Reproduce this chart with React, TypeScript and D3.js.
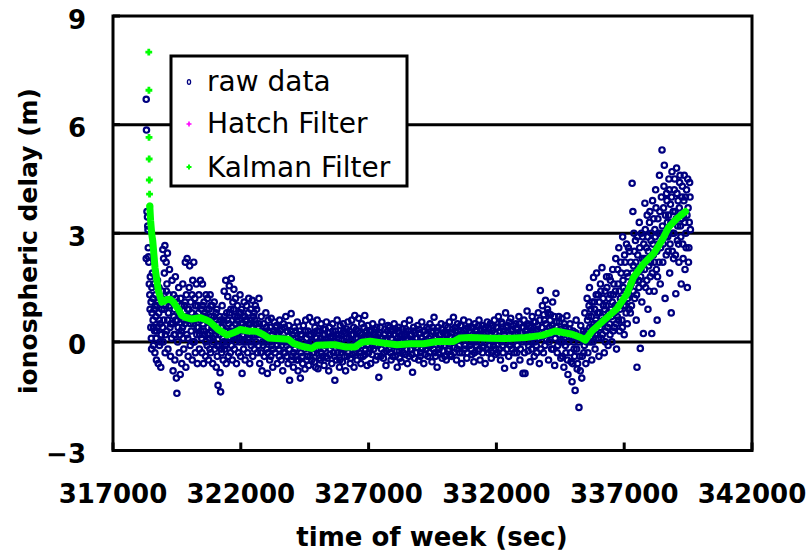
import React from "react";
import * as d3 from "d3";

const xTicks = [317000, 322000, 327000, 332000, 337000, 342000];
const yTicks = [-3, 0, 3, 6, 9];
const gridValues = [0, 3, 6];
const legendLabels = ["raw data", "Hatch Filter", "Kalman Filter"];

// Kalman filter: sparse early samples (drawn as markers only)
const kalmanStart: [number, number][] = [
  [318400, 8.0], [318405, 6.95], [318410, 5.65], [318415, 5.05], [318420, 4.47], [318430, 4.08], [318440, 3.75],
];
// Kalman filter: dense part (drawn as a thick trace)
const kalmanTrace: [number, number][] = [
  [318440, 3.75], [318470, 3.36], [318520, 2.95], [318554, 2.8], [318644, 2.05], [318773, 1.42], [318907, 1.1],
  [319000, 1.12], [319100, 1.17], [319230, 1.18], [319361, 1.1], [319494, 0.96], [319556, 0.9], [319690, 0.73],
  [319819, 0.68], [320081, 0.63], [320406, 0.67], [320602, 0.62], [320798, 0.55], [321122, 0.34], [321451, 0.19],
  [321514, 0.2], [321710, 0.25], [321972, 0.34], [322285, 0.3], [322626, 0.29], [322884, 0.2], [323080, 0.11],
  [323409, 0.09], [323863, 0.07], [324059, -0.04], [324388, -0.12], [324779, -0.18], [324975, -0.09],
  [325496, -0.08], [325691, -0.08], [326083, -0.14], [326474, -0.14], [326737, -0.01], [327062, 0.02],
  [327453, -0.02], [328107, -0.08], [328628, -0.05], [329148, -0.05], [329673, 0.01], [330323, 0.01],
  [330585, 0.11], [330977, 0.12], [331760, 0.1], [332347, 0.09], [333130, 0.12], [333784, 0.18], [334304, 0.3],
  [334958, 0.21], [335300, 0.12], [335479, 0.05], [335741, 0.3], [336195, 0.59], [336720, 0.92], [337111, 1.33],
  [337370, 1.79], [337762, 2.16], [338153, 2.44], [338482, 2.81], [338741, 3.17], [339069, 3.41], [339327, 3.56],
  [339400, 3.6],
];

// raw ionospheric delay samples, first pass (spread / outliers)
const rawSpread: [number, number][] = [
  [318300, 6.7], [318310, 5.85], [318330, 3.6], [318350, 3.45], [318360, 3.2], [318370, 3.1], [318380, 2.6],
  [318390, 2.35], [318300, 2.3], [318400, 2.2], [318420, 1.6], [318440, 1.3], [318450, 0.9], [318460, 1.8],
  [318480, 0.4], [318490, 1.1], [318500, 0.1], [318510, -0.2], [318520, 1.5],
  [318540, 1.9], [318560, 1.2], [318570, 0.6], [318580, -0.1], [318600, 1.6], [318610, 0.9], [318630, 0.3],
  [318640, -0.3], [318660, 1.3], [318680, 0.7], [318690, 0.1], [318700, -0.5], [318720, 1.0], [318740, 1.7],
  [318750, 0.4], [318770, -0.6], [318790, 0.8], [318800, 1.5], [318820, -0.1], [318840, 0.5], [318860, 1.2],
  [318870, -0.7], [318890, 0.2], [318910, 0.9], [318930, 1.4], [318950, 2.55], [318960, 0.0], [318980, 2.3],
  [318990, 0.6], [319010, 1.9], [319030, 2.66], [319040, -0.3], [319060, 1.0], [319080, 2.2], [319100, 0.3],
  [319110, 1.6], [319130, 2.45], [319150, -0.2], [319170, 0.8], [319190, 1.3], [319210, 2.0], [319230, 0.4],
  [319250, -0.4], [319270, 1.1], [319290, 0.1],
  [319310, 1.7], [319330, 0.5], [319350, -0.8], [319370, 1.3], [319390, 0.2], [319400, 0.9], [319420, -0.5],
  [319440, 1.8], [319460, 0.6], [319480, -1.0], [319500, -1.42], [319510, 1.1], [319530, 0.0], [319550, 0.4],
  [319570, 1.5], [319590, -0.3], [319610, 0.8], [319630, -0.9], [319650, 1.2], [319670, 0.3], [319690, -0.6],
  [319710, 0.7], [319730, 1.6], [319750, 0.1], [319770, -0.2], [319790, 1.0], [319810, 0.5], [319830, 2.2],
  [319850, -0.7], [319870, 1.3], [319890, 0.2], [319900, 2.3], [319920, 0.9], [319940, -0.4], [319960, 0.6],
  [319980, 1.5], [320000, 2.1], [320020, -0.1], [320040, 1.1], [320060, 0.3], [320080, 0.8], [320100, -0.5],
  [320120, 1.7], [320140, 0.5], [320160, 2.2], [320180, 0.0], [320200, 1.2], [320220, -0.3], [320240, 0.7],
  [320260, 1.6], [320280, 0.2], [320300, -0.6], [320320, 1.0], [320340, 0.4], [320360, 1.3], [320380, -0.2],
  [320420, 1.7], [320440, 0.3], [320460, 0.9], [320480, -0.3], [320500, 1.6], [320520, 0.5], [320540, -0.6],
  [320560, 1.1], [320580, 0.2], [320600, 0.8], [320620, -0.4], [320640, 1.3], [320660, 0.6], [320680, -0.1],
  [320700, 1.2], [320720, 0.4], [320740, -0.5], [320760, 0.9], [320780, 0.1], [320800, 1.3], [320820, -0.3],
  [320840, 0.7], [320860, 0.3], [320880, 1.0], [320900, -0.6], [320920, 0.5], [320940, 0.0], [320960, 1.1],
  [320980, -0.2], [321000, 0.6], [321020, 0.2], [321040, -0.7], [321060, 0.9], [321080, -0.4], [321110, -1.2],
  [321130, 0.3], [321150, -0.1], [321170, 0.7], [321190, -0.85], [321210, -1.38], [321230, 0.4], [321250, -0.3],
  [321270, 1.0], [321290, 0.1], [321310, -0.5], [321330, 0.6], [321350, 1.4], [321370, -0.2], [321390, 0.3],
  [321410, 1.7], [321430, -0.6], [321450, 0.8], [321470, 0.0], [321490, 1.25], [321510, -0.4], [321530, 0.5],
  [321550, 1.55], [321570, 0.1], [321590, -0.3], [321610, 0.9], [321630, 1.75], [321650, 0.4], [321670, -0.5],
  [321690, 1.1], [321710, 0.2], [321730, 1.45], [321750, -0.2], [321770, 0.7], [321790, 1.2], [321810, 0.0],
  [321830, -0.6], [321850, 0.6], [321870, 1.0], [321890, 0.3], [321910, -0.3], [321930, 0.8], [321950, 0.1],
  [321970, 1.3], [321990, -0.4], [322010, 0.5], [322030, 0.9], [322050, -0.87], [322070, 0.2], [322090, 0.7],
  [322110, -0.2], [322130, 1.1], [322150, 0.4], [322170, -0.5], [322190, 0.6], [322210, 0.0], [322230, 1.0],
  [322250, 0.3], [322270, -0.3], [322290, 0.8], [322310, 1.2], [322330, 0.1], [322350, -0.6], [322370, 0.5],
  [322390, 0.9], [322410, -0.1], [322430, 0.4], [322450, 1.15], [322470, -0.4], [322490, 0.7], [322510, 0.2],
  [322530, -0.2], [322550, 0.6], [322570, 1.0], [322590, 0.0],
  [322620, 0.9], [322650, -0.3], [322680, 0.4], [322710, 1.2], [322740, -0.6], [322770, 0.2], [322800, 0.7],
  [322830, -0.8], [322860, 0.0], [322890, 0.5], [322920, -0.4], [322950, 0.3], [322980, 0.8], [323010, -0.2],
  [323040, -0.87], [323070, 0.6], [323100, 0.1], [323130, -0.5], [323160, 0.4], [323190, 0.65], [323220, -0.1],
  [323250, -0.7], [323280, 0.3], [323310, 0.55], [323340, -0.3], [323370, 0.1], [323400, 0.45], [323430, -0.6],
  [323460, 0.2], [323490, -0.2], [323520, 0.6], [323550, 0.0], [323580, -0.5], [323610, 0.35], [323640, -0.8],
  [323670, 0.5], [323700, 0.1], [323730, -0.3], [323760, 0.7], [323790, -0.1], [323820, 0.3], [323850, -0.6],
  [323880, 0.45], [323910, -1.06], [323940, 0.0], [323970, 0.78], [324000, -0.4], [324030, 0.2], [324060, -0.7],
  [324090, 0.4], [324120, -0.2], [324150, 0.1], [324180, -0.5], [324210, 0.55], [324240, -0.8], [324270, 0.0],
  [324300, 0.3], [324330, -1.0], [324360, -0.3], [324390, 0.2], [324420, -0.6], [324450, 0.45], [324480, -0.1],
  [324510, -0.75], [324540, 0.6], [324570, 0.1], [324600, -0.4], [324630, 0.3], [324660, -0.65], [324690, 0.67],
  [324720, -0.2], [324750, 0.2], [324780, -0.5], [324810, 0.55], [324840, 0.0], [324870, -0.3], [324900, 0.4],
  [324930, -0.7], [324960, 0.1], [324990, 0.6], [325020, -0.74], [325050, -0.2], [325080, 0.3], [325110, -0.5],
  [325140, 0.5], [325170, 0.0], [325200, -0.4], [325230, 0.35], [325260, -0.65], [325290, 0.2], [325320, -0.1],
  [325350, 0.55], [325380, -0.45], [325410, 0.1], [325440, -0.8], [325470, 0.4], [325500, -0.2], [325530, 0.15],
  [325560, -0.6], [325590, 0.5], [325620, -0.3], [325650, 0.0], [325680, -1.06], [325710, 0.3], [325740, -0.5],
  [325770, 0.6], [325800, -0.1], [325830, 0.2], [325860, -0.7], [325890, 0.45], [325920, -0.3], [325950, 0.05],
  [325980, -0.55], [326010, 0.5], [326040, -0.2], [326070, 0.25], [326100, -0.8], [326130, 0.1], [326160, -0.4],
  [326190, 0.55], [326220, -0.15], [326250, 0.3], [326280, -0.6], [326310, 0.0], [326340, 0.6], [326370, -0.35],
  [326400, 0.2], [326430, -0.7], [326460, 0.73], [326490, -0.1], [326520, 0.35], [326550, -0.5], [326580, 0.1],
  [326610, 0.65], [326640, -0.3], [326670, 0.25], [326700, -0.6], [326730, 0.5], [326760, 0.0], [326790, -0.4],
  [326820, 0.4], [326850, 0.73], [326880, -0.2], [326910, 0.15], [326940, -0.65], [326970, 0.45],
  [327000, -0.3], [327040, 0.3], [327080, -0.6], [327120, 0.1], [327160, 0.5], [327200, -0.2], [327240, 0.2],
  [327280, -0.5], [327320, 0.4], [327360, -0.1], [327400, -0.98], [327440, 0.25], [327480, -0.4], [327520, 0.55],
  [327560, 0.0], [327600, -0.3], [327640, 0.35], [327680, -0.65], [327720, 0.1], [327760, 0.45], [327800, -0.2],
  [327840, 0.2], [327880, -0.5], [327920, 0.3], [327960, -0.1], [328000, 0.5], [328040, -0.4], [328080, 0.0],
  [328120, -0.7], [328160, 0.4], [328200, -0.25], [328240, 0.15], [328280, -0.55], [328320, 0.35], [328360, -0.1],
  [328400, 0.5], [328440, -0.35], [328480, 0.05], [328520, -0.6], [328560, 0.3], [328600, 0.6], [328640, -0.2],
  [328680, 0.2], [328720, -0.84], [328760, 0.4], [328800, -0.45], [328840, 0.1], [328880, -0.15], [328920, 0.45],
  [328960, -0.5], [329000, 0.25], [329040, -0.3], [329080, 0.55], [329120, 0.0], [329160, -0.6], [329200, 0.3],
  [329240, -0.2], [329280, 0.4], [329320, -0.4], [329360, 0.1], [329400, 0.5], [329440, -0.1], [329480, -0.55],
  [329520, 0.3], [329560, 0.68], [329600, -0.3], [329640, 0.15], [329680, -0.7], [329720, 0.4], [329760, -0.2],
  [329800, 0.05], [329840, 0.5], [329880, -0.45], [329920, 0.25], [329960, -0.1], [330000, 0.45], [330040, -0.5],
  [330080, 0.2], [330120, -0.25], [330160, 0.55], [330200, 0.0], [330240, -0.4], [330280, 0.35], [330320, 0.68],
  [330360, -0.15], [330400, 0.3], [330440, -0.5], [330480, 0.5], [330520, 0.1], [330560, -0.3], [330600, 0.45],
  [330640, -0.6], [330680, 0.25], [330720, 0.6], [330760, -0.2], [330800, 0.35], [330840, -0.45], [330880, 0.15],
  [330920, 0.55], [330960, -0.1], [331000, 0.4], [331040, -0.35], [331080, 0.2], [331120, -0.55], [331160, 0.5],
  [331200, 0.0], [331240, 0.3], [331280, -0.25], [331320, 0.6], [331360, -0.5], [331400, 0.15], [331440, 0.45],
  [331480, -0.15], [331520, 0.35], [331560, -0.6], [331600, 0.25], [331640, 0.55], [331680, -0.3], [331720, 0.1],
  [331760, 0.5], [331800, -0.45], [331840, 0.3], [331880, -0.1], [331920, 0.6], [331960, -0.35],
  [332000, 0.4], [332040, -0.3], [332080, 0.7], [332120, 0.1], [332160, -0.5], [332200, 0.55], [332240, -0.1],
  [332280, 0.3], [332320, -0.73], [332360, 0.8], [332400, 0.0], [332440, 0.45], [332480, -0.4], [332520, 0.2],
  [332560, 0.65], [332600, -0.2], [332640, 0.35], [332680, -0.65], [332720, 0.1], [332760, 0.5], [332800, -0.3],
  [332840, 0.25], [332880, 0.7], [332920, -0.5], [332960, 0.05], [333000, 0.4], [333040, -0.87], [333080, 0.6],
  [333120, -0.87], [333160, 0.2], [333200, 0.85], [333240, -0.25], [333280, 0.45], [333320, -0.55], [333360, 0.0],
  [333400, 0.7], [333440, 0.3], [333480, -0.4], [333520, 0.55], [333560, -0.1], [333600, 0.35], [333640, 0.8],
  [333680, -0.6], [333720, 1.42], [333760, 0.15], [333800, 1.0], [333840, -0.3], [333880, 0.6], [333920, 1.15],
  [333960, 0.05], [334000, 0.9], [334040, -0.5], [334080, 0.4], [334120, 0.75], [334160, -0.2], [334200, 1.1],
  [334240, 0.3], [334280, -0.65], [334330, 1.34], [334360, 0.55], [334400, -0.1], [334440, 0.7], [334480, 0.2],
  [334520, -0.45], [334560, 0.65], [334600, 0.0], [334640, -0.7], [334680, 0.4], [334720, -0.3], [334760, 0.72],
  [334800, -0.9], [334840, 0.15], [334880, 0.5], [334920, -0.55], [334960, -1.1], [335000, 0.3], [335040, -0.2],
  [335080, -1.34], [335120, 0.6], [335160, -0.75], [335200, 0.1], [335230, -1.81], [335260, -0.4], [335300, 0.45],
  [335340, -1.0], [335380, 0.2], [335420, -0.3], [335460, 0.8], [335500, -0.6],
  [335520, 0.3], [335550, 1.2], [335580, -0.3], [335610, 0.7], [335640, 1.5], [335670, 0.0], [335700, 0.9],
  [335730, -0.5], [335760, 0.4], [335800, 1.78], [335830, 1.1], [335860, -0.2], [335890, 0.6], [335920, 1.9],
  [335950, 0.2], [335980, 1.3], [336010, -0.4], [336040, 0.8], [336070, 1.6], [336100, 0.1], [336130, 2.05],
  [336160, 0.5], [336190, 1.0], [336220, -0.3], [336250, 1.4], [336280, 0.3], [336310, 1.8], [336340, 0.7],
  [336370, -0.1], [336400, 1.2], [336430, 0.5], [336460, 1.7], [336490, 0.9], [336520, 0.0], [336550, 2.0],
  [336580, 1.3], [336610, 0.4], [336640, 1.0], [336670, 2.3], [336700, -0.2], [336730, 0.7], [336760, 1.6],
  [336790, 2.6], [336820, 0.3], [336850, 1.2], [336880, 1.9], [336910, 0.6], [336940, 2.9], [336970, 1.5],
  [337000, 0.2], [337030, 2.2], [337060, 1.0], [337090, 2.7], [337120, 0.5], [337150, 1.8], [337180, 1.3],
  [337210, 2.5], [337240, 0.8], [337270, 1.6], [337310, 4.38], [337340, 3.6], [337360, 2.1], [337380, 3.0],
  [337410, 1.2], [337440, 2.8], [337470, 0.6], [337500, -0.7], [337530, 2.4], [337560, 1.7], [337590, 3.3],
  [337630, -0.18], [337660, 2.0], [337690, 1.1], [337720, 2.9], [337750, 0.23], [337780, 2.3], [337810, 3.83],
  [337840, 1.5], [337870, 2.6], [337900, 3.5], [337930, 0.9], [337960, 2.1], [337990, 3.3], [338020, 1.8],
  [338050, 2.8], [338080, 0.23], [338110, 3.9], [338140, 2.4], [338170, 1.4], [338200, 3.1], [338230, 4.2],
  [338260, 2.0], [338290, 0.6], [338320, 3.4], [338350, 2.7], [338380, 4.6], [338410, 1.6], [338440, 3.0],
  [338480, 5.3], [338510, 2.2], [338540, 3.7], [338570, 4.88], [338600, 1.2], [338630, 2.9], [338660, 4.1],
  [338690, 3.3], [338720, 2.5], [338750, 4.5], [338780, 1.9], [338810, 3.8], [338840, 0.8], [338870, 4.7],
  [338900, 3.0], [338930, 2.3], [338960, 4.2], [338990, 3.6], [339020, 1.33], [339050, 4.8], [339080, 2.8],
  [339110, 3.9], [339140, 2.2], [339170, 4.4], [339200, 3.2], [339230, 1.6], [339260, 4.0], [339290, 2.7],
  [339320, 3.5], [339350, 4.6], [339380, 2.0], [339410, 3.0], [339440, 4.2], [339470, 1.5], [339500, 3.7],
  [339530, 2.6], [339560, 4.4], [339590, 3.1],
];

// raw ionospheric delay samples, second pass (dense core of the cloud)
const rawCore: [number, number][] = [
  [318530, 0.8], [318590, 0.4], [318650, 1.0], [318710, 0.3], [318760, 1.1], [318810, 0.6], [318850, 0.0],
  [318900, 1.2], [318940, 0.4], [319000, 0.9], [319050, 0.2], [319090, 1.4], [319140, 0.6], [319200, 1.0],
  [319260, 0.5], [319320, 1.1], [319380, 0.7], [319430, 0.2], [319470, 1.2], [319520, 0.6], [319580, 0.9],
  [319620, 0.2], [319680, 1.0], [319720, 0.4], [319780, 0.6], [319820, 1.1], [319880, 0.7], [319930, 0.1],
  [319970, 0.9], [320030, 0.5], [320090, 1.3], [320130, 0.0], [320190, 0.6], [320230, 1.0], [320290, 0.4],
  [320350, 0.8], [320390, 0.2],
  [320430, 0.6], [320470, 0.1], [320510, 1.0], [320550, 0.3], [320590, 0.7], [320630, 0.0], [320670, 0.9],
  [320710, 0.2], [320750, 0.6], [320790, -0.2], [320830, 1.0], [320870, 0.4], [320910, 0.1], [320950, 0.7],
  [320990, 0.3], [321030, 0.8], [321070, -0.1], [321120, 0.5], [321160, 0.2], [321200, 0.6], [321240, -0.2],
  [321280, 0.4], [321320, 0.0], [321360, 0.7], [321400, -0.1], [321440, 0.3], [321480, 0.6], [321520, 0.1],
  [321560, 0.8], [321600, 0.3], [321640, -0.1], [321680, 0.6], [321720, 0.9], [321760, 0.3], [321800, 0.5],
  [321840, 0.1], [321880, 0.7], [321920, 0.4], [321960, 0.0], [322000, 0.8], [322040, 0.3], [322080, 0.5],
  [322120, 0.0], [322160, 0.7], [322200, 0.3], [322240, 0.6], [322280, 0.1], [322320, 0.5], [322360, 0.2],
  [322400, 0.6], [322440, 0.0], [322480, 0.4], [322520, 0.8], [322560, 0.3], [322600, 0.5],
  [322635, 0.2], [322695, -0.1], [322725, 0.5], [322785, -0.3], [322815, 0.3], [322875, -0.1], [322905, 0.2],
  [322965, 0.0], [322995, 0.4], [323055, -0.3], [323085, 0.3], [323145, 0.0], [323175, -0.4], [323235, 0.2],
  [323265, -0.2], [323325, 0.1], [323355, 0.4], [323415, -0.1], [323445, 0.25], [323505, -0.4], [323535, 0.3],
  [323595, -0.1], [323625, 0.1], [323685, -0.3], [323715, 0.4], [323775, 0.0], [323805, -0.4], [323865, 0.15],
  [323895, -0.2], [323955, 0.3], [323985, -0.5], [324045, 0.1], [324075, -0.3], [324135, 0.3], [324165, -0.4],
  [324225, 0.0], [324255, -0.5], [324315, -0.1], [324345, 0.2], [324405, -0.4], [324435, 0.0], [324495, -0.2],
  [324525, 0.3], [324585, -0.5], [324615, -0.1], [324675, 0.2], [324705, -0.4], [324765, 0.0], [324795, -0.3],
  [324855, 0.25], [324885, -0.55], [324945, -0.2], [324975, 0.3], [325035, 0.0], [325065, -0.45], [325125, 0.1],
  [325155, -0.3], [325215, 0.2], [325245, -0.2], [325305, 0.35], [325335, -0.4], [325395, 0.0], [325425, 0.25],
  [325485, -0.35], [325515, 0.1], [325575, -0.1], [325605, 0.3], [325665, -0.4], [325695, 0.0], [325755, 0.2],
  [325785, -0.3], [325845, 0.1], [325875, -0.5], [325935, 0.2], [325965, -0.2], [326025, 0.3], [326055, -0.4],
  [326115, 0.0], [326145, 0.35], [326205, -0.3], [326235, 0.1], [326295, -0.45], [326325, 0.2], [326385, -0.1],
  [326415, 0.4], [326475, -0.3], [326505, 0.1], [326565, -0.2], [326595, 0.3], [326655, 0.0], [326685, -0.4],
  [326745, 0.2], [326775, -0.1], [326835, 0.1], [326865, -0.35], [326925, 0.3], [326955, -0.1], [326990, 0.2],
  [327020, 0.1], [327060, -0.2], [327100, 0.3], [327140, -0.35], [327180, 0.0], [327220, 0.35], [327260, -0.1],
  [327300, 0.15], [327340, -0.4], [327380, 0.2], [327420, 0.0], [327460, 0.4], [327500, -0.2], [327540, 0.1],
  [327580, -0.45], [327620, 0.2], [327660, 0.05], [327700, -0.25], [327740, 0.3], [327780, -0.05], [327820, 0.4],
  [327860, -0.3], [327900, 0.1], [327940, -0.4], [327980, 0.2], [328020, -0.1], [328060, 0.35], [328100, -0.25],
  [328140, 0.1], [328180, 0.3], [328220, -0.45], [328260, 0.0], [328300, 0.2], [328340, -0.3], [328380, 0.15],
  [328420, -0.05], [328460, 0.35], [328500, -0.2], [328540, 0.1], [328580, -0.4], [328620, 0.2], [328660, 0.0],
  [328700, -0.35], [328740, 0.3], [328780, -0.1], [328820, 0.25], [328860, -0.3], [328900, 0.1], [328940, -0.05],
  [328980, 0.35], [329020, -0.4], [329060, 0.1], [329100, -0.2], [329140, 0.3], [329180, 0.0], [329220, -0.35],
  [329260, 0.2], [329300, -0.1], [329340, 0.35], [329380, -0.3], [329420, 0.15], [329460, 0.0], [329500, 0.4],
  [329540, -0.2], [329580, 0.1], [329620, -0.4], [329660, 0.3], [329700, 0.0], [329740, -0.3], [329780, 0.2],
  [329820, -0.1], [329860, 0.35], [329900, -0.25], [329940, 0.1], [329980, -0.4], [330020, 0.2], [330060, 0.0],
  [330100, 0.4], [330140, -0.2], [330180, 0.15], [330220, -0.35], [330260, 0.25], [330300, 0.0], [330340, -0.3],
  [330380, 0.4], [330420, 0.1], [330460, -0.2], [330500, 0.3], [330540, -0.1], [330580, 0.2], [330620, 0.45],
  [330660, -0.3], [330700, 0.1], [330740, 0.3], [330780, -0.1], [330820, 0.2], [330860, -0.3], [330900, 0.4],
  [330940, 0.0], [330980, 0.25], [331020, -0.2], [331060, 0.4], [331100, 0.05], [331140, -0.3], [331180, 0.3],
  [331220, -0.1], [331260, 0.2], [331300, 0.45], [331340, -0.2], [331380, 0.35], [331420, 0.0], [331460, -0.3],
  [331500, 0.2], [331540, 0.0], [331580, 0.4], [331620, -0.2], [331660, 0.1], [331700, 0.35], [331740, -0.1],
  [331780, 0.2], [331820, -0.3], [331860, 0.45], [331900, 0.0], [331940, 0.25], [331980, -0.2],
  [332020, 0.1], [332060, 0.4], [332100, -0.2], [332140, 0.3], [332180, 0.0], [332220, 0.5], [332260, -0.3],
  [332300, 0.2], [332340, 0.0], [332380, 0.4], [332420, -0.2], [332460, 0.1], [332500, 0.55], [332540, -0.1],
  [332580, 0.3], [332620, 0.0], [332660, 0.45], [332700, -0.3], [332740, 0.2], [332780, 0.35], [332820, -0.1],
  [332860, 0.1], [332900, 0.5], [332940, -0.2], [332980, 0.25], [333020, 0.0], [333060, 0.4], [333100, -0.3],
  [333140, 0.3], [333180, 0.0], [333220, 0.5], [333260, -0.1], [333300, 0.2], [333340, 0.4], [333380, -0.2],
  [333420, 0.1], [333460, 0.55], [333500, 0.0], [333540, 0.3], [333580, -0.3], [333620, 0.45], [333660, 0.1],
  [333700, 0.6], [333740, -0.2], [333780, 0.4], [333820, 0.2], [333860, 0.75], [333900, -0.1], [333940, 0.5],
  [333980, 0.3], [334020, 0.8], [334060, 0.0], [334100, 0.6], [334140, 0.2], [334180, 0.45], [334220, -0.2],
  [334260, 0.7], [334300, 0.1], [334340, 0.4], [334380, -0.3], [334420, 0.3], [334460, 0.55], [334500, 0.0],
  [334540, 0.35], [334580, -0.4], [334620, 0.2], [334660, 0.5], [334700, -0.1], [334740, 0.3], [334780, -0.5],
  [334820, 0.0], [334860, 0.35], [334900, -0.3], [334940, 0.1], [334980, -0.6], [335020, 0.0], [335060, -0.4],
  [335100, 0.25], [335140, -0.2], [335180, -0.6], [335220, 0.0], [335280, -0.8], [335320, 0.1], [335360, -0.4],
  [335400, 0.3], [335440, -0.1], [335480, 0.2],
  [335535, 0.0], [335565, 0.6], [335595, 0.2], [335625, 1.0], [335655, 0.4], [335685, 0.1], [335715, 0.7],
  [335745, 1.1], [335775, 0.0], [335815, 0.5], [335845, 0.9], [335875, 0.2], [335905, 1.3], [335935, 0.5],
  [335965, 0.8], [335995, 0.1], [336025, 1.1], [336055, 0.4], [336085, 1.4], [336115, 0.7], [336145, 0.2],
  [336175, 1.2], [336205, 0.6], [336235, 0.9], [336265, 0.0], [336295, 1.0], [336325, 1.5], [336355, 0.4],
  [336385, 0.8], [336415, 1.8], [336445, 0.2], [336475, 1.3], [336505, 0.7], [336535, 1.1], [336565, 0.3],
  [336595, 1.6], [336625, 0.8], [336655, 1.4], [336685, 0.5], [336715, 1.0], [336745, 2.0], [336775, 0.6],
  [336805, 1.4], [336835, 0.9], [336865, 2.2], [336895, 1.1], [336925, 0.4], [336955, 1.7], [336985, 1.0],
  [337015, 2.4], [337045, 1.4], [337075, 0.8], [337105, 1.9], [337135, 1.2], [337165, 2.6], [337195, 0.9],
  [337225, 1.5], [337255, 2.2], [337285, 1.0], [337325, 1.9], [337355, 1.4], [337395, 2.5], [337425, 1.7],
  [337455, 2.2], [337485, 1.3], [337515, 2.9], [337545, 2.0], [337575, 1.5], [337605, 2.6], [337645, 1.8],
  [337675, 3.0], [337705, 2.3], [337735, 1.6], [337765, 2.7], [337795, 2.0], [337825, 3.1], [337855, 2.3],
  [337885, 1.7], [337915, 2.9], [337945, 2.5], [337975, 1.4], [338005, 3.6], [338035, 2.2], [338065, 3.0],
  [338095, 1.9], [338125, 2.7], [338155, 3.4], [338185, 2.2], [338215, 2.9], [338245, 3.7], [338275, 2.5],
  [338305, 1.8], [338335, 3.0], [338365, 2.2], [338395, 3.6], [338425, 2.6], [338455, 4.0], [338495, 3.2],
  [338525, 2.7], [338555, 4.3], [338585, 3.0], [338615, 3.5], [338645, 2.4], [338675, 3.9], [338705, 2.9],
  [338735, 3.5], [338765, 4.2], [338795, 2.7], [338825, 3.3], [338855, 4.0], [338885, 2.5], [338915, 3.6],
  [338945, 3.0], [338975, 4.5], [339005, 2.4], [339035, 3.4], [339065, 4.1], [339095, 3.2], [339125, 2.7],
  [339155, 3.7], [339185, 4.6], [339215, 2.9], [339245, 3.4], [339275, 4.3], [339305, 2.3], [339335, 3.9],
  [339365, 3.3], [339395, 4.0], [339425, 2.6], [339455, 3.5], [339485, 4.5], [339515, 2.2], [339545, 3.3],
  [339575, 4.0],
];

const NAVY = "#000080";
const GREEN = "#00ff00";
const MAGENTA = "#ff00ff";
const FONT = "'DejaVu Sans', sans-serif";

const plus = (cx: number, cy: number, r: number) =>
  `M${cx - r},${cy}H${cx + r}M${cx},${cy - r}V${cy + r}`;

export default function App() {
  const W = 807, H = 553;
  const left = 113, right = 752, top = 16, bottom = 450.5;
  const x = d3.scaleLinear().domain([317000, 342000]).range([left, right]);
  const y = d3.scaleLinear().domain([-3, 9]).range([bottom, top]);
  const line = d3.line<[number, number]>().x((d) => x(d[0])).y((d) => y(d[1])).curve(d3.curveLinear);
  const raw = rawSpread.concat(rawCore);

  return (
    <svg width={W} height={H} style={{ position: "absolute", left: 0, top: 0, background: "#fff" }}>
      <rect x={0} y={0} width={W} height={H} fill="#fff" />
      {gridValues.map((g) => (
        <line key={g} x1={left} x2={right} y1={y(g)} y2={y(g)} stroke="#000" strokeWidth={3} />
      ))}
      <g>
        {raw.map((d, i) => (
          <circle key={i} cx={x(d[0])} cy={y(d[1])} r={2.7} fill="none" stroke={NAVY} strokeWidth={2.2} />
        ))}
      </g>
      <path d={line(kalmanTrace) || ""} fill="none" stroke={GREEN} strokeWidth={7} strokeLinejoin="round" strokeLinecap="round" />
      {kalmanStart.map((d, i) => (
        <path key={i} d={plus(x(d[0]), y(d[1]), 3.4)} stroke={GREEN} strokeWidth={2.8} />
      ))}
      <rect x={left} y={top} width={right - left} height={bottom - top} fill="none" stroke="#000" strokeWidth={3} />
      {xTicks.map((t) => (
        <line key={t} x1={x(t)} x2={x(t)} y1={bottom} y2={bottom - 8} stroke="#000" strokeWidth={3} />
      ))}
      {yTicks.map((t) => (
        <line key={t} x1={left} x2={left + 7} y1={y(t)} y2={y(t)} stroke="#000" strokeWidth={3} />
      ))}
      {xTicks.map((t) => (
        <text key={t} x={x(t)} y={503} textAnchor="middle" fontFamily={FONT} fontWeight="bold" fontSize={26} fill="#000">
          {t}
        </text>
      ))}
      {yTicks.map((t) => (
        <text key={t} x={86} y={y(t) + 12.5} textAnchor="end" fontFamily={FONT} fontWeight="bold" fontSize={26} fill="#000">
          {t < 0 ? "\u2212" + Math.abs(t) : t}
        </text>
      ))}
      <text x={432} y={546} textAnchor="middle" fontFamily={FONT} fontWeight="bold" fontSize={26} fill="#000">
        time of week (sec)
      </text>
      <text transform={`translate(37,241) rotate(-90)`} textAnchor="middle" fontFamily={FONT} fontWeight="bold" fontSize={25} fill="#000">
        ionospheric delay (m)
      </text>
      <g>
        <rect x={171} y={56} width={236} height={130} fill="#fff" stroke="#000" strokeWidth={3} />
        <ellipse cx={189} cy={82} rx={1.6} ry={2.4} fill="none" stroke={NAVY} strokeWidth={1.3} />
        <path d={plus(189, 124, 2.5)} stroke={MAGENTA} strokeWidth={1.6} />
        <path d={plus(189, 167, 2.5)} stroke={GREEN} strokeWidth={2} />
        {legendLabels.map((l, i) => (
          <text key={l} x={207} y={[91, 133, 177][i]} fontFamily={FONT} fontSize={28} fill="#000">
            {l}
          </text>
        ))}
      </g>
    </svg>
  );
}
